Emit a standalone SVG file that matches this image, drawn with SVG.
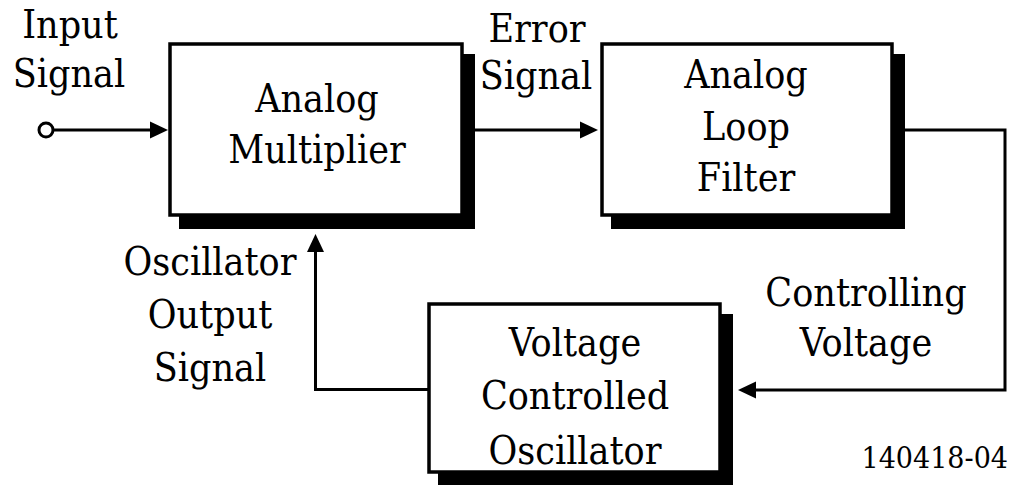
<svg xmlns="http://www.w3.org/2000/svg" width="1014" height="485" viewBox="0 0 1014 485">
  <style>
    text { font-family: 'DejaVu Serif Condensed', 'DejaVu Serif', 'Liberation Serif', serif; font-stretch: condensed; font-size: 39px; fill: #000; text-anchor: middle; }
    .shadow { fill: #000; stroke: none; }
    .box { fill: #fff; stroke: #000; stroke-width: 3.5; }
    .wire { fill: none; stroke: #000; stroke-width: 3; stroke-linejoin: miter; }
    .head { fill: #000; stroke: none; }
    .tag { font-size: 30px; text-anchor: end; }
  </style>
  <rect width="1014" height="485" fill="#fff"/>

  <!-- connectors -->
  <g id="connectors">
    <!-- input terminal into the multiplier -->
    <circle cx="46" cy="130" r="7" fill="#fff" stroke="#000" stroke-width="3"/>
    <line class="wire" x1="53" y1="130" x2="152" y2="130"/>
    <polygon class="head" points="168,130 150,121.5 150,138.5"/>
    <!-- error signal -->
    <line class="wire" x1="475" y1="130" x2="581" y2="130"/>
    <polygon class="head" points="598,130 580,121.5 580,138.5"/>
    <!-- controlling voltage back to the VCO -->
    <polyline class="wire" points="905,130 1005,130 1005,390 755,390"/>
    <polygon class="head" points="738,390 756,381.5 756,398.5"/>
    <!-- oscillator output up to the multiplier -->
    <polyline class="wire" points="428,389.5 315.5,389.5 315.5,250"/>
    <polygon class="head" points="315.5,234 307,252 324,252"/>
  </g>

  <g id="multiplier">
    <rect class="shadow" x="179" y="54" width="296" height="175"/>
    <rect class="box" x="170" y="44" width="292" height="171"/>
    <text x="317" y="112">Analog</text>
    <text x="317" y="163">Multiplier</text>
  </g>

  <g id="loop-filter">
    <rect class="shadow" x="611" y="54" width="294" height="175"/>
    <rect class="box" x="602" y="44" width="290" height="171"/>
    <text x="746" y="88">Analog</text>
    <text x="746" y="140">Loop</text>
    <text x="746" y="191">Filter</text>
  </g>

  <g id="vco">
    <rect class="shadow" x="438" y="314" width="295" height="172"/>
    <rect class="box" x="429" y="304" width="291" height="168"/>
    <text x="575" y="356">Voltage</text>
    <text x="575" y="409">Controlled</text>
    <text x="575" y="464">Oscillator</text>
  </g>

  <g id="labels">
    <text x="70" y="38">Input</text>
    <text x="69" y="87">Signal</text>
    <text x="537" y="42">Error</text>
    <text x="536" y="89">Signal</text>
    <text x="866" y="306">Controlling</text>
    <text x="866" y="356">Voltage</text>
    <text x="210" y="275">Oscillator</text>
    <text x="210" y="328">Output</text>
    <text x="210" y="381">Signal</text>
    <text class="tag" x="1008" y="468">140418-04</text>
  </g>
</svg>
